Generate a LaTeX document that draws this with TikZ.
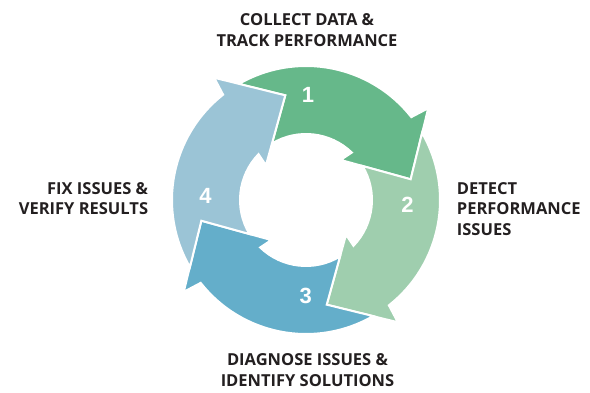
\documentclass[tikz,border=0pt]{standalone}
\usepackage{fontspec}
\setmainfont{Open Sans}
\newfontfamily\numfont{Liberation Sans}
\definecolor{cA}{RGB}{102,184,138}
\definecolor{cB}{RGB}{159,206,174}
\definecolor{cC}{RGB}{100,174,202}
\definecolor{cD}{RGB}{155,196,214}
\definecolor{txt}{RGB}{35,31,32}
\tikzset{
  arrowshape/.style={draw=white, line width=2pt, line join=miter},
  numlabel/.style={text=white, inner sep=0pt, font=\numfont\bfseries\fontsize{22}{22}\selectfont},
  steplabel/.style={text=txt, inner sep=0pt, font=\bfseries\fontsize{16.5}{20.5}\selectfont}
}
\newcommand\cyclearrow[2]{%
  \begin{scope}[shift={(306,192)}, rotate=#1]
    \fill[#2, arrowshape] (120:134) arc[start angle=120, end angle=38.2, radius=134]
      -- (36.9:152.9) -- (11.2:106.7) -- (49.1:53) -- (46:66)
      arc[start angle=46, end angle=121, radius=66] -- (101.2:106.7) -- cycle;
  \end{scope}}
\begin{document}
\begin{tikzpicture}[x=1pt, y=1pt]
  \useasboundingbox (0,0) rectangle (590,392);
  \cyclearrow{0}{cA}
  \cyclearrow{-90}{cB}
  \cyclearrow{-180}{cC}
  \cyclearrow{-270}{cD}
  \node[numlabel] (n1) at (308,296.7) {1};
  \node[numlabel] (n2) at (407.5,186.7) {2};
  \node[numlabel] (n3) at (305.8,96) {3};
  \node[numlabel] (n4) at (205.5,196.3) {4};
  \node[steplabel, align=center] (t1) at (307,362) {COLLECT DATA \&\\TRACK PERFORMANCE};
  \node[steplabel, align=left, anchor=west] (t2) at (456.7,183.2) {DETECT\\PERFORMANCE\\ISSUES};
  \node[steplabel, align=center] (t3) at (307.5,22) {DIAGNOSE ISSUES \&\\IDENTIFY SOLUTIONS};
  \node[steplabel, align=right, anchor=east] (t4) at (148.3,193.2) {FIX ISSUES \&\\VERIFY RESULTS};
\end{tikzpicture}
\end{document}
